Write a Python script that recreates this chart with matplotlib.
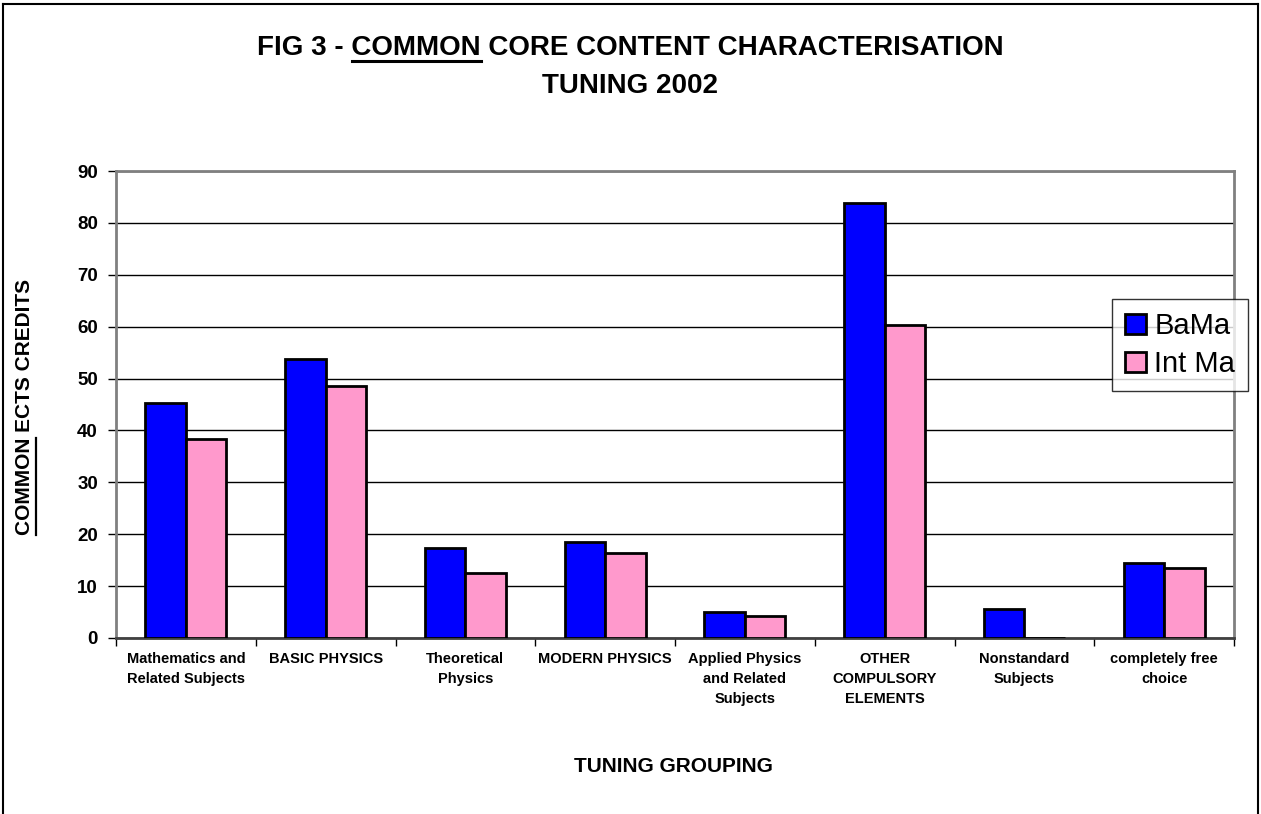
import matplotlib
matplotlib.use("Agg")
import matplotlib.pyplot as plt
import numpy as np
from matplotlib.lines import Line2D

plt.rcParams['font.family'] = ['Liberation Sans', 'DejaVu Sans']

categories = ["Mathematics and\nRelated Subjects", "BASIC PHYSICS", "Theoretical\nPhysics",
              "MODERN PHYSICS", "Applied Physics\nand Related\nSubjects",
              "OTHER\nCOMPULSORY\nELEMENTS", "Nonstandard\nSubjects", "completely free\nchoice"]
bama = [45.2, 53.8, 17.3, 18.5, 5.1, 83.8, 5.5, 14.5]
intma = [38.3, 48.5, 12.5, 16.3, 4.3, 60.4, 0.0, 13.4]
series_names = ["BaMa", "Int Ma"]
yticks = [0, 10, 20, 30, 40, 50, 60, 70, 80, 90]

W, H = 1261, 814
fig = plt.figure(figsize=(W / 100, H / 100), dpi=100)
fig.patch.set_facecolor("white")

ax = fig.add_axes([116 / W, 1 - 638 / H, (1234 - 116) / W, (638 - 171) / H])
x = np.arange(len(categories))
bw = 0.29
ax.bar(x - bw / 2, bama, bw, color="#0000FF", edgecolor="black", linewidth=2, label=series_names[0], zorder=3)
ax.bar(x + bw / 2, intma, bw, color="#FF99CC", edgecolor="black", linewidth=2, label=series_names[1], zorder=3)

ax.set_xlim(-0.5, len(categories) - 0.5)
ax.set_ylim(0, 90)
ax.set_yticks(yticks)
ax.set_yticklabels([str(v) for v in yticks], fontsize=13.5, fontweight="bold")
ax.yaxis.grid(True, color="black", linewidth=1, zorder=0)
ax.set_axisbelow(True)

ax.set_xticks(np.arange(len(categories) + 1) - 0.5)
ax.set_xticklabels([])
ax.set_xticks(x, minor=True)
ax.set_xticklabels(categories, minor=True, fontsize=10.5, fontweight="bold", linespacing=1.55)
ax.tick_params(axis="x", which="minor", length=0, pad=10)
ax.tick_params(axis="x", which="major", length=6, width=1, color="black", direction="out")
ax.tick_params(axis="y", length=6, width=1, color="black", direction="out", pad=7)

for s in ["top", "right", "left"]:
    ax.spines[s].set_color("#808080")
    ax.spines[s].set_linewidth(2)
ax.spines["bottom"].set_color("#404040")
ax.spines["bottom"].set_linewidth(2)

leg = ax.legend(loc="upper left", bbox_to_anchor=((1112 - 116) / (1234 - 116), (638 - 299) / (638 - 171)),
                fontsize=21, frameon=True, fancybox=False, edgecolor="black",
                handlelength=0.7, handleheight=0.7, handletextpad=0.3, borderpad=0.45,
                labelspacing=0.35, borderaxespad=0)
leg.get_frame().set_linewidth(1)
leg.set_zorder(10)

# Title
TFS = 20
t1 = fig.text(0.5, 1 - 55 / H, "FIG 3 - COMMON CORE CONTENT CHARACTERISATION", ha="center", va="baseline",
              fontsize=TFS, fontweight="bold")
fig.text(0.5, 1 - 93 / H, "TUNING 2002", ha="center", va="baseline", fontsize=TFS, fontweight="bold")

# Axis labels
fig.text(673 / W, 1 - 772 / H, "TUNING GROUPING", ha="center", va="baseline", fontsize=15, fontweight="bold")
YFS = 15
yl = fig.text(25 / W, 1 - 407 / H, "COMMON ECTS CREDITS", ha="center", va="center", rotation=90,
              fontsize=YFS, fontweight="bold")

fig.canvas.draw()
r = fig.canvas.get_renderer()


def width_px(s, size):
    t = fig.text(0, 0, s, fontsize=size, fontweight="bold")
    bb = t.get_window_extent(r)
    t.remove()
    return bb.width


# Title underline
bb1 = t1.get_window_extent(r)
x0 = bb1.x0
s = x0 + width_px("FIG 3 - C", TFS) - width_px("C", TFS)
e = x0 + width_px("FIG 3 - COMMON", TFS)
yline = H - 61
fig.add_artist(Line2D([s / W, e / W], [yline / H, yline / H], color="black", linewidth=2.2,
                      transform=fig.transFigure))

# Y label underline (rotated: text reads bottom-to-top)
bby = yl.get_window_extent(r)
ys = bby.y0
ye = bby.y0 + width_px("COMMON", YFS)
xl = 36
fig.add_artist(Line2D([xl / W, xl / W], [ys / H, ye / H], color="black", linewidth=1.6,
                      transform=fig.transFigure))

# Chart area frame (open at bottom, cropped)
for xs_, ys_ in [([3, 3], [H + 5, 4]), ([3, 1258], [4, 4]), ([1258, 1258], [4, H + 5])]:
    fig.add_artist(Line2D([v / W for v in xs_], [1 - v / H for v in ys_], color="black", linewidth=1.5,
                          transform=fig.transFigure))

fig.savefig("out.png", dpi=100, facecolor="white")
